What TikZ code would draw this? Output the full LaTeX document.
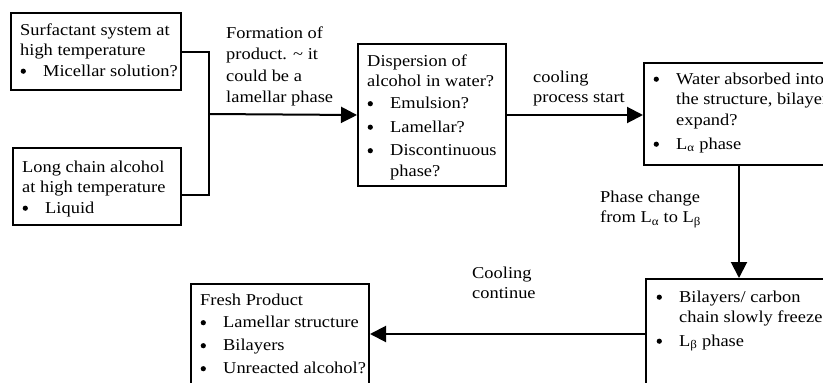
\documentclass[tikz,border=0pt]{standalone}
\usepackage{fontspec}
\setmainfont{Liberation Serif}[FakeStretch=1.11]
\usetikzlibrary{arrows.meta}
\newcommand{\bl}{\makebox[23pt][l]{\hspace{0.5pt}\raisebox{2.4pt}{\tikz\fill (0,0) circle (2.6pt);}}}
\newcommand{\cl}{\hspace*{23pt}}
\newcommand{\fr}{\rule{0pt}{13pt}}
\begin{document}
\begin{tikzpicture}[x=1pt,y=-1pt,
  box/.style={draw, line width=2pt, inner sep=0pt, anchor=north west},
  txt/.style={anchor=north west, inner sep=0pt, align=left, font=\fontsize{16.6}{20.5}\selectfont},
  conn/.style={line width=2pt},
  arr/.style={conn, -{Triangle[length=16pt,width=16pt]}}]
\useasboundingbox (0,0) rectangle (823,383);
\clip (0,0) rectangle (823,383);

% boxes
\node[box, minimum width=170pt, minimum height=77pt] (surf) at (10,12) {};
\node[txt] (surft) at (20,22) {\fr Surfactant system at\\ high temperature\\ \bl Micellar solution?};

\node[box, minimum width=168pt, minimum height=77pt] (alc) at (12,147) {};
\node[txt] (alct) at (22,159) {\fr Long chain alcohol\\ at high temperature\\ \bl Liquid};

\node[box, minimum width=148pt, minimum height=142pt] (disp) at (357,43) {};
\node[txt] (dispt) at (367,53) {\fr Dispersion of\\ alcohol in water?\\[1.5pt] \bl Emulsion?\\[3pt] \bl Lamellar?\\[3pt] \bl Discontinuous\\ \cl phase?};

\node[box, minimum width=190pt, minimum height=102pt] (wat) at (643,62) {};
\node[txt] (watt) at (653,71) {\fr\bl Water absorbed into\\ \cl the structure, bilayers\\[0.5pt] \cl expand?\\[3pt] \bl L\textsubscript{α} phase};

\node[box, minimum width=186pt, minimum height=110pt] (bil) at (645,278) {};
\node[txt] (bilt) at (656,289) {\fr\bl Bilayers/ carbon\\ \cl chain slowly freeze\\[3pt] \bl L\textsubscript{β} phase};

\node[box, minimum width=178pt, minimum height=110pt] (fresh) at (190,283) {};
\node[txt] (fresht) at (200,292) {\fr Fresh Product\\[2pt] \bl Lamellar structure\\[2.5pt] \bl Bilayers\\[2.5pt] \bl Unreacted alcohol?};

% labels
\node[txt] (lf) at (226,25) {\fr Formation of\\[1pt] product. \textasciitilde{} it\\[1pt] could be a\\[1pt] lamellar phase};
\node[txt] (lc) at (533,69) {\fr cooling\\ process start};
\node[txt] (lp) at (600,189) {\fr Phase change\\ from L\textsubscript{α} to L\textsubscript{β}};
\node[txt] (lcc) at (472,265) {\fr Cooling\\ continue};

% connectors
\coordinate (j) at (209,114);
\draw[conn] (surf.east) -| (j);
\draw[conn] ([yshift=-8.5pt]alc.east) -| (j);
\draw[arr] (j) -- (disp.west);
\draw[arr] (disp.east) -- (wat.west |- disp.east);
\draw[arr] (wat.south) -- (bil.north -| wat.south);
\draw[arr] (bil.west) -- (fresh.east |- bil.west);
\end{tikzpicture}
\end{document}
